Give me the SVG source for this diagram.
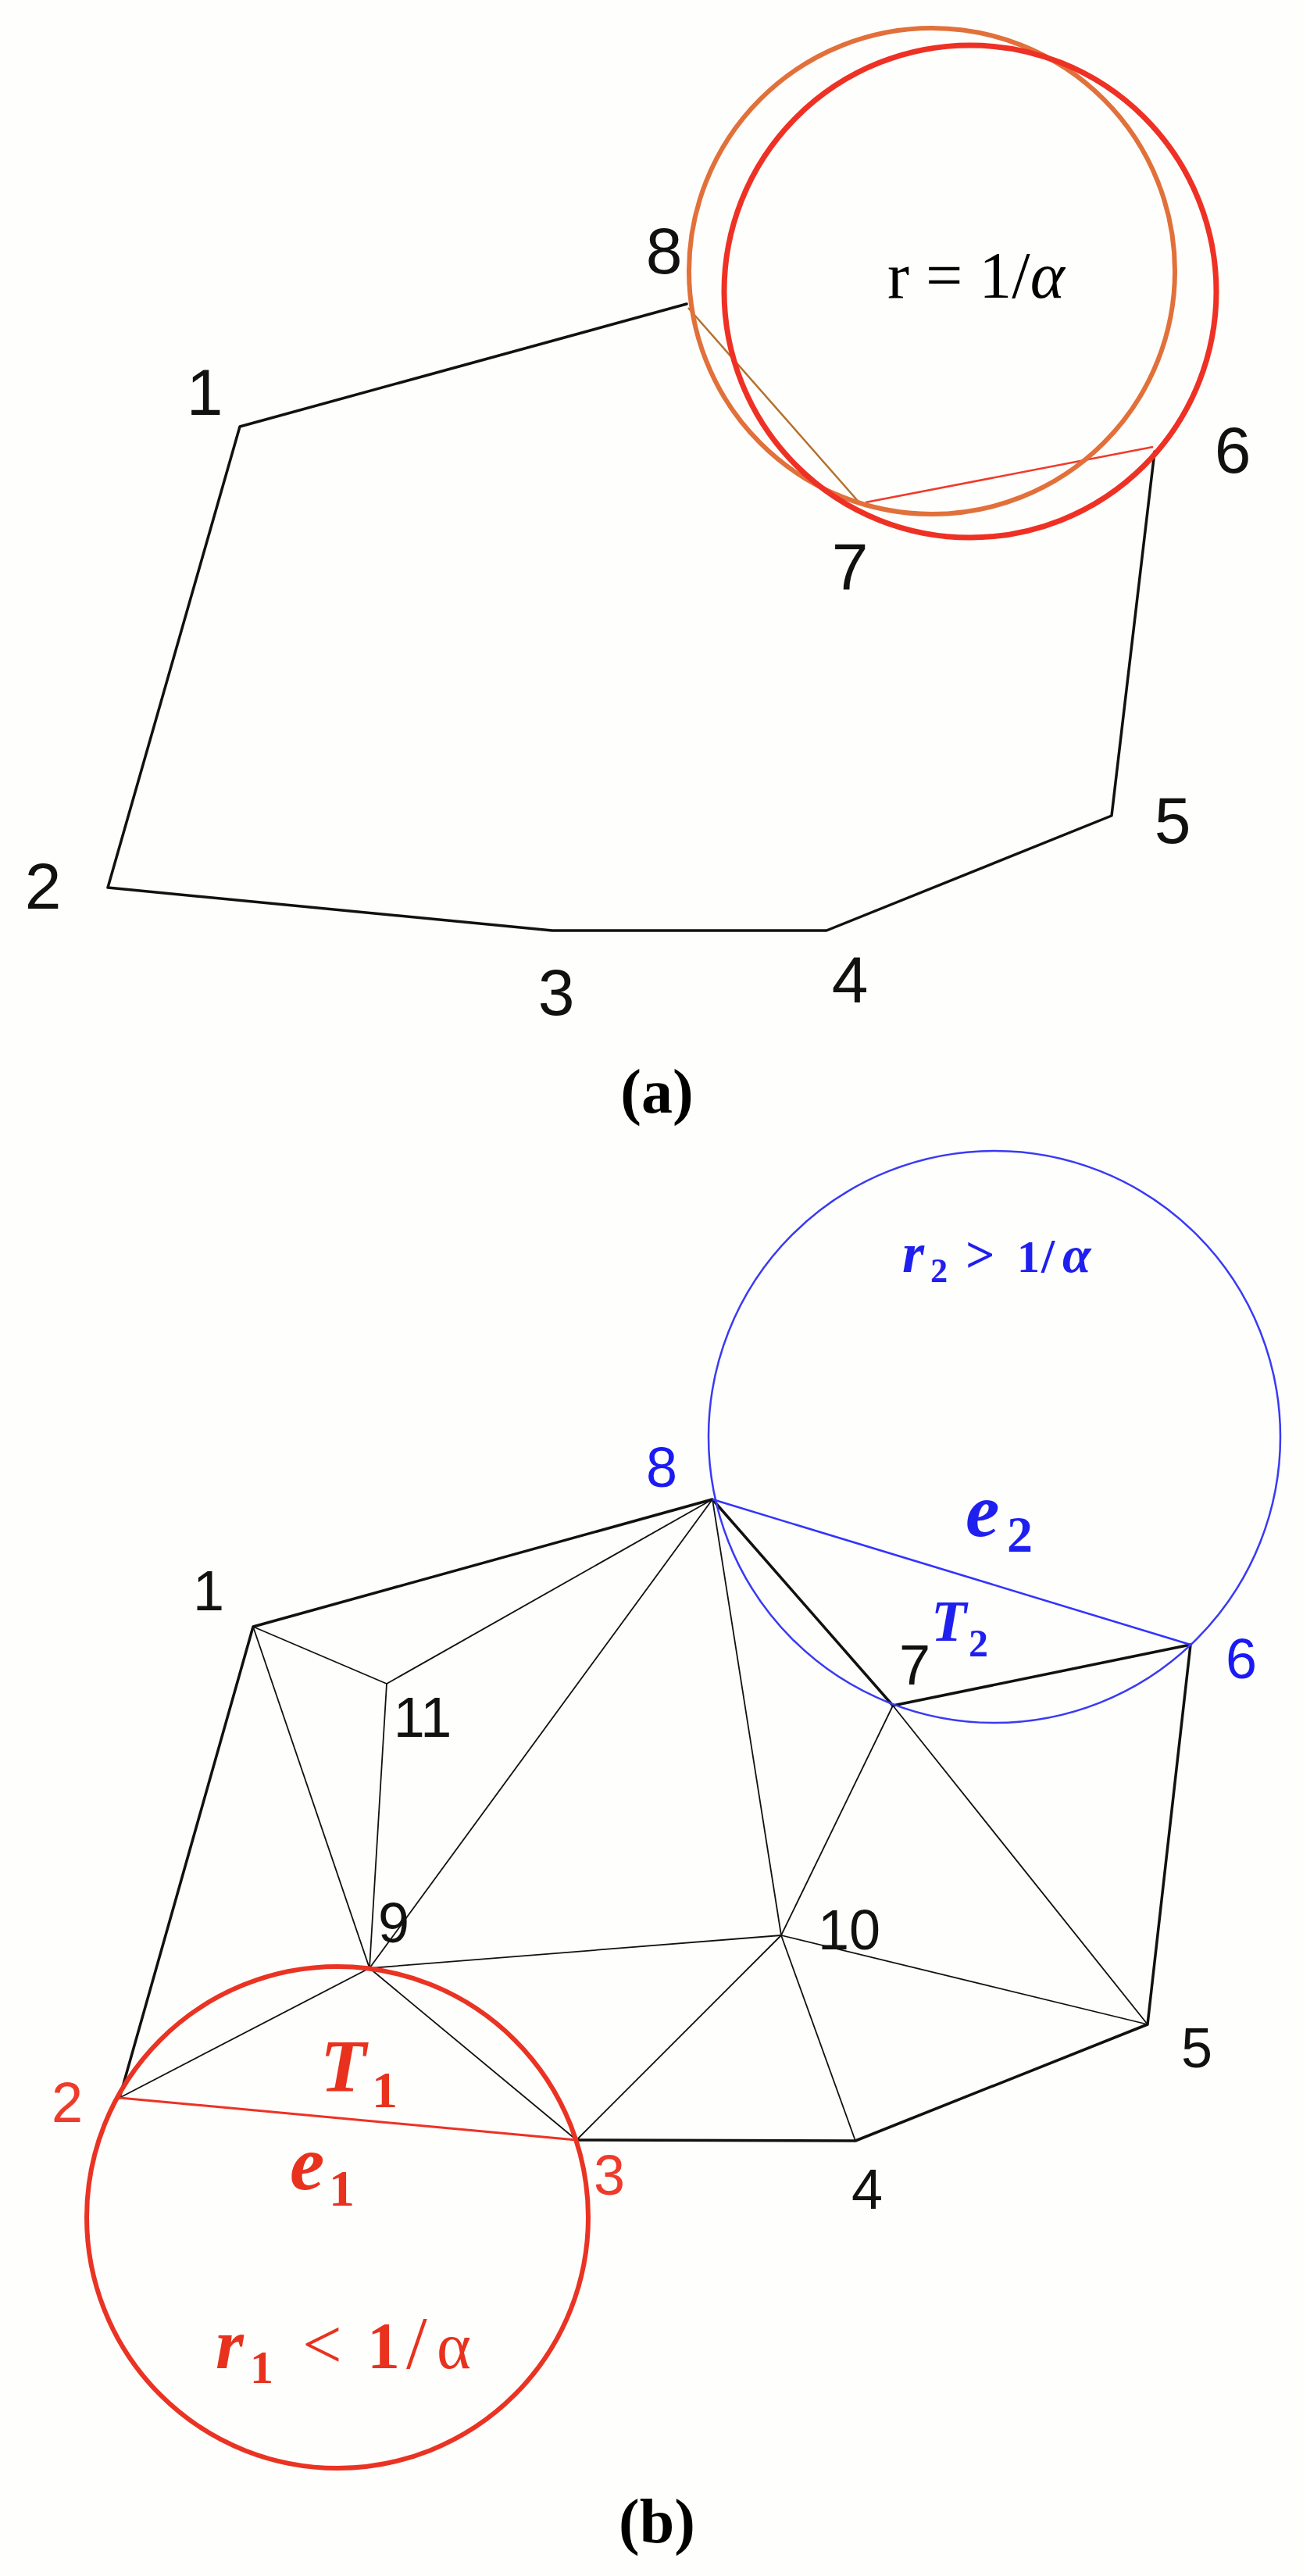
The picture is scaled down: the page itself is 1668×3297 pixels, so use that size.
<svg xmlns="http://www.w3.org/2000/svg" width="1668" height="3297" viewBox="0 0 1668 3297">
<style>
.lbl{font-family:"Liberation Sans",Arial,sans-serif;text-anchor:middle;fill:#111}
.la{font-size:84px}
.lb{font-size:72px}
.red{fill:#EE3B2B}
.blue{fill:#1A1AF5}
.cap{font-family:"Liberation Serif","Times New Roman",serif;font-weight:bold;font-size:80px;text-anchor:middle;fill:#000}
.math{font-family:"Liberation Serif","Times New Roman",serif}
.bi{font-weight:bold;font-style:italic}
.b{font-weight:bold}
.edge{fill:none;stroke:#111;stroke-linecap:round;stroke-linejoin:round}
.thick{stroke-width:3.5}
.thin{stroke-width:1.8}
.circ{fill:none}
</style>
<rect width="1668" height="3297" fill="#FEFEFC"/>

<!-- ===== (a) ===== -->
<g id="connectors-a">
  <polyline class="edge thick" points="879,389 307,546 138,1136 707,1191 1058,1191 1423,1044 1478,578"/>
  <line x1="881" y1="394" x2="1098" y2="641" stroke="#B5702C" stroke-width="2.5"/>
  <line x1="1108" y1="643" x2="1476" y2="572" stroke="#F03A2A" stroke-width="2.5"/>
</g>
<g id="circles-a">
  <circle class="circ" cx="1193" cy="347" r="311" stroke="#E2703A" stroke-width="6"/>
  <circle class="circ" cx="1242" cy="373" r="315" stroke="#EE3124" stroke-width="7"/>
  <text class="math" x="1136" y="381" font-size="84" fill="#000">r = 1/<tspan font-style="italic">α</tspan></text>
</g>
<g id="a-n1"><text class="lbl la" x="262" y="531">1</text></g>
<g id="a-n2"><text class="lbl la" x="55" y="1163">2</text></g>
<g id="a-n3"><text class="lbl la" x="712" y="1299">3</text></g>
<g id="a-n4"><text class="lbl la" x="1088" y="1283">4</text></g>
<g id="a-n5"><text class="lbl la" x="1501" y="1079">5</text></g>
<g id="a-n6"><text class="lbl la" x="1578" y="605">6</text></g>
<g id="a-n7"><text class="lbl la" x="1088" y="754">7</text></g>
<g id="a-n8"><text class="lbl la" x="850" y="350">8</text></g>
<text class="cap" x="841" y="1424">(a)</text>

<!-- ===== (b) ===== -->
<g id="connectors-b">
  <polyline class="edge thick" points="153,2685 324,2082 912,1919 1143,2183 1524,2105 1469,2591 1095,2740 738,2739"/>
  <g class="edge thin">
    <line x1="324" y1="2082" x2="495" y2="2155"/>
    <line x1="324" y1="2082" x2="473" y2="2519"/>
    <line x1="495" y1="2155" x2="473" y2="2519"/>
    <line x1="495" y1="2155" x2="912" y2="1919"/>
    <line x1="473" y1="2519" x2="912" y2="1919"/>
    <line x1="473" y1="2519" x2="1000" y2="2477"/>
    <line x1="473" y1="2519" x2="153" y2="2685"/>
    <line x1="473" y1="2519" x2="738" y2="2739"/>
    <line x1="738" y1="2739" x2="1000" y2="2477"/>
    <line x1="1000" y1="2477" x2="1095" y2="2740"/>
    <line x1="1000" y1="2477" x2="912" y2="1919"/>
    <line x1="1000" y1="2477" x2="1143" y2="2183"/>
    <line x1="1000" y1="2477" x2="1469" y2="2591"/>
    <line x1="1143" y1="2183" x2="1469" y2="2591"/>
  </g>
  <line id="edge-e1" x1="153" y1="2685" x2="738" y2="2739" stroke="#EE3124" stroke-width="3"/>
  <line id="edge-e2" x1="912" y1="1919" x2="1524" y2="2105" stroke="#3333FF" stroke-width="2.5"/>
</g>
<g id="circles-b">
  <circle class="circ" cx="1273" cy="1839" r="366" stroke="#3A3AF5" stroke-width="2.5"/>
  <circle class="circ" cx="432" cy="2838" r="321" stroke="#EA3323" stroke-width="6"/>
</g>
<g id="b-n1"><text class="lbl lb" x="267" y="2061">1</text></g>
<g id="b-n2"><text class="lbl lb red" x="86" y="2716">2</text></g>
<g id="b-n3"><text class="lbl lb red" x="780" y="2809">3</text></g>
<g id="b-n4"><text class="lbl lb" x="1110" y="2827">4</text></g>
<g id="b-n5"><text class="lbl lb" x="1532" y="2646">5</text></g>
<g id="b-n6"><text class="lbl lb blue" x="1589" y="2148">6</text></g>
<g id="b-n7"><text class="lbl lb" x="1171" y="2156">7</text></g>
<g id="b-n8"><text class="lbl lb blue" x="847" y="1903">8</text></g>
<g id="b-n9"><text class="lbl lb" x="504" y="2486">9</text></g>
<g id="b-n10"><text class="lbl lb" x="1087" y="2495">10</text></g>
<g id="b-n11"><text class="lbl lb" x="541" y="2223">11</text></g>

<g id="labels-red" class="math" fill="#E8321E">
  <text><tspan class="bi" x="410" y="2677" font-size="96">T</tspan><tspan class="b" x="476" y="2697" font-size="66">1</tspan></text>
  <text><tspan class="bi" x="371" y="2802" font-size="100">e</tspan><tspan class="b" x="421" y="2823" font-size="66">1</tspan></text>
  <text><tspan class="bi" x="276" y="3031" font-size="92">r</tspan><tspan class="b" x="320" y="3050" font-size="60">1</tspan><tspan x="387" y="3031" font-size="90">&lt;</tspan><tspan class="b" x="470" y="3031" font-size="84">1</tspan><tspan x="520" y="3031" font-size="96">/</tspan><tspan x="559" y="3031" font-size="84">α</tspan></text>
</g>
<g id="labels-blue" class="math" fill="#1F1FF0">
  <text><tspan class="bi" x="1155" y="1628" font-size="72">r</tspan><tspan class="b" x="1191" y="1641" font-size="44">2</tspan><tspan class="b" x="1236" y="1628" font-size="66">&gt;</tspan><tspan class="b" x="1302" y="1628" font-size="58">1</tspan><tspan class="b" x="1333" y="1628" font-size="62">/</tspan><tspan class="bi" x="1360" y="1628" font-size="66">α</tspan></text>
  <text><tspan class="bi" x="1236" y="1966" font-size="98">e</tspan><tspan class="b" x="1289" y="1986" font-size="66">2</tspan></text>
  <text><tspan class="bi" x="1192" y="2100" font-size="74">T</tspan><tspan class="b" x="1240" y="2120" font-size="50">2</tspan></text>
</g>
<text class="cap" x="841" y="3254">(b)</text>
</svg>
